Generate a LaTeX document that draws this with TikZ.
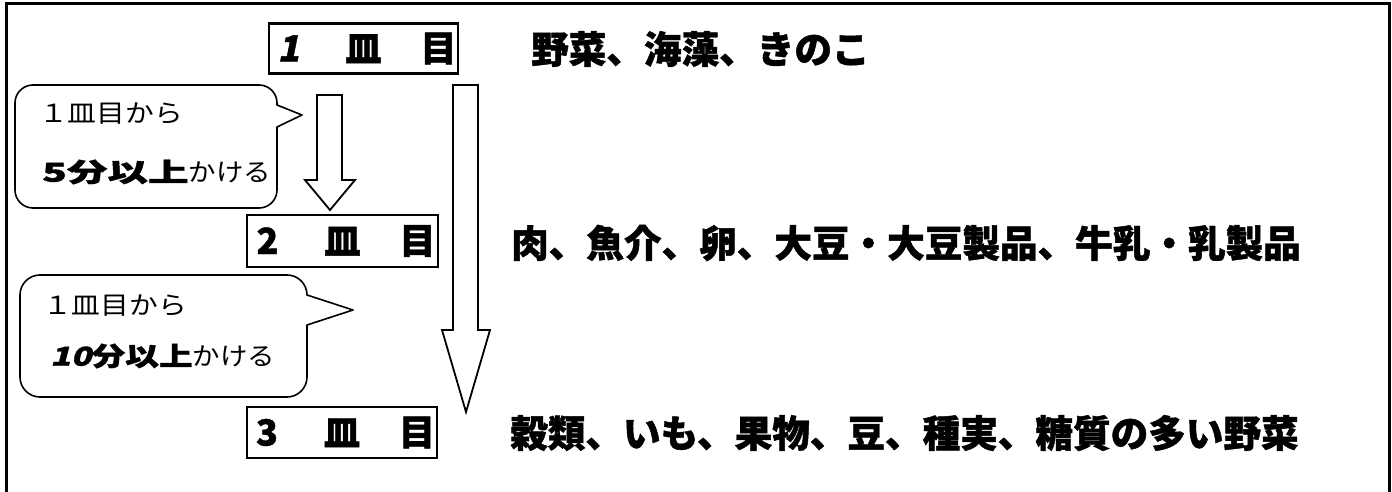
\documentclass[tikz,border=0pt]{standalone}
\usepackage{fontspec}
\usepackage{graphicx}
\newfontfamily\cjk{Noto Sans CJK JP}
\newfontfamily\cjkheavy{Noto Sans CJK JP}[BoldFeatures={FakeBold=1.2}]
\newfontfamily\cjkslant{Noto Sans CJK JP}[FakeSlant=0.2,BoldFeatures={FakeBold=1.2}]
\begin{document}
\begin{tikzpicture}[x=1pt,y=-1pt,
  dishbox/.style={draw, line width=2.5pt, minimum width=189pt, minimum height=50pt, inner sep=0pt,
    font=\cjkheavy\bfseries\fontsize{36}{36}\selectfont},
  mainline/.style={anchor=west, inner sep=0pt, font=\cjkheavy\bfseries\fontsize{37.6}{37.6}\selectfont},
  bubtxt/.style={anchor=west, inner sep=0pt, font=\cjk\fontsize{25}{25}\selectfont},
  bubble/.style={draw, line width=1.6pt, line join=round},
  blockarrow/.style={draw, line width=1.8pt, line join=miter, fill=white}]
\useasboundingbox (0,0) rectangle (1392,492);
\draw[line width=3pt] (6,4) rectangle (1389,520);

% dish boxes
\node[dishbox] (d1) at (363.5,48.5) {\makebox[0pt]{\cjkslant\bfseries 1}\hspace{75pt}\makebox[0pt]{皿}\hspace{75pt}\makebox[0pt]{目}};
\node[dishbox, minimum width=191pt, minimum height=52pt] (d2) at (342.5,241) {\makebox[0pt]{2}\hspace{75pt}\makebox[0pt]{皿}\hspace{75pt}\makebox[0pt]{目}};
\node[dishbox, minimum width=190pt, minimum height=51pt] (d3) at (342,432.5) {\makebox[0pt]{3}\hspace{75pt}\makebox[0pt]{皿}\hspace{75pt}\makebox[0pt]{目}};

% food lines
\node[mainline] (f1) at (531,49) {野菜、海藻、きのこ};
\node[mainline] (f2) at (511,243) {肉、魚介、卵、大豆・大豆製品、牛乳・乳製品};
\node[mainline] (f3) at (510,433) {穀類、いも、果物、豆、種実、糖質の多い野菜};

% arrows
\draw[blockarrow] (317,95) -- (342,95) -- (342,180) -- (355,180) -- (330,210) -- (305,180) -- (317,180) -- cycle;
\draw[blockarrow] (453,85) -- (478,85) -- (478,330) -- (490,330) -- (466,412) -- (442,330) -- (453,330) -- cycle;

% bubble 1
\draw[bubble] (277,105) -- (302,115) -- (277,127) [rounded corners=18pt] -- (277,208) -- (15,208) -- (15,85) -- (277,85) [sharp corners] -- cycle;
\node[bubtxt] (b1a) at (39,114) {\scalebox{1.15}[1]{１皿目から}};
\node[bubtxt] (b1b) at (42,172) {\scalebox{1.56}[1]{\fontsize{26}{26}\selectfont\cjkheavy\bfseries 5分以上}\scalebox{1.1}[1]{かける}};

% bubble 2
\draw[bubble] (307,295) -- (353,310) -- (307,325) [rounded corners=20pt] -- (307,397) -- (20,397) -- (20,275) -- (307,275) [sharp corners] -- cycle;
\node[bubtxt] (b2a) at (43,306) {\scalebox{1.15}[1]{１皿目から}};
\node[bubtxt] (b2b) at (50,356) {\scalebox{1.3}[1]{\fontsize{26}{26}\selectfont\cjkheavy\bfseries{\cjkslant\bfseries 10}分以上}\scalebox{1.1}[1]{かける}};
\end{tikzpicture}
\end{document}
